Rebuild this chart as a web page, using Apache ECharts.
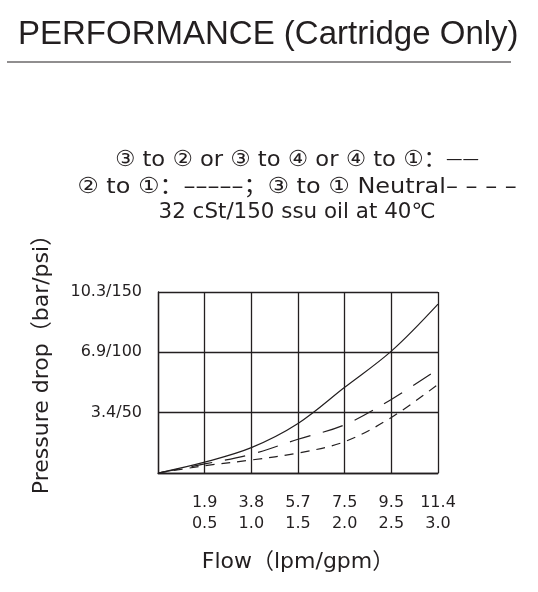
<!DOCTYPE html>
<html>
<head>
<meta charset="utf-8">
<script src="https://cdn.jsdelivr.net/npm/echarts@6/dist/echarts.min.js"></script>
<style>
  html, body { margin: 0; padding: 0; background: #fff; }
  #main { width: 538px; height: 592px; }
</style>
</head>
<body>
<div id="main"></div>
<script>
  // data (x in gpm, y in psi)
  const flowGpm = [0, 0.5, 1.0, 1.5, 2.0, 2.5, 3.0];
  const solidPsi = [0, 9, 21, 41, 71, 101, 140];
  const longDashPsi = [0, 7.5, 15.5, 28, 40, 61, 86];
  const shortDashPsi = [0, 6, 10.8, 16.5, 26, 46, 73.5];

  const xTickLpm = ['', '1.9', '3.8', '5.7', '7.5', '9.5', '11.4'];
  const xTickGpm = ['', '0.5', '1.0', '1.5', '2.0', '2.5', '3.0'];
  const yTickLabels = ['', '3.4/50', '6.9/100', '10.3/150'];

  const titleFont = '"Liberation Sans", Arial, sans-serif';
  const font = '"DejaVu Sans", "Noto Sans CJK SC", sans-serif';
  const ink = '#231f20';

  const pairs = (ys) => flowGpm.map((x, i) => [x, ys[i]]);

  let myChart = echarts.init(document.getElementById('main'));

  const legendLine = (text, y, size, sx) => ({
    type: 'text', x: 297, y: y, scaleX: sx,
    style: {
      text: text, fontFamily: font, fontSize: size, fill: ink,
      align: 'center', verticalAlign: 'middle',
      rich: { d: { fontFamily: font, fontSize: 16, fill: ink } }
    }
  });

  const option = {
    animation: false,
    grid: { left: 158, top: 292, width: 280, height: 181, show: false },
    graphic: [
      {
        type: 'text', left: 18, top: 18,
        style: { text: 'PERFORMANCE (Cartridge Only)', font: '33px ' + titleFont, fill: ink }
      },
      {
        type: 'line', shape: { x1: 7, y1: 62, x2: 511, y2: 62 },
        style: { stroke: ink, lineWidth: 1.2 }
      },
      legendLine('③ to ② or ③ to ④ or ④ to ①：{d|——}', 160, 22, 1.03),
      legendLine('② to ①：–––––；③ to ① Neutral– – – –', 187, 22, 1.09),
      legendLine('32 cSt/150 ssu oil at 40℃', 213, 21, 1.02)
    ],
    xAxis: {
      type: 'value', min: 0, max: 3, interval: 0.5,
      name: 'Flow（lpm/gpm）', nameLocation: 'middle', nameGap: 78,
      nameTextStyle: { fontFamily: font, fontSize: 22, color: ink },
      axisLine: { lineStyle: { color: ink, width: 1.3 } },
      axisTick: { show: false },
      splitLine: { show: true, lineStyle: { color: ink, width: 1.3 } },
      axisLabel: {
        margin: 19, fontFamily: font, fontSize: 16, color: ink, lineHeight: 21,
        formatter: (v) => {
          const i = Math.round(v / 0.5);
          return xTickLpm[i] ? xTickLpm[i] + '\n' + xTickGpm[i] : '';
        }
      }
    },
    yAxis: {
      type: 'value', min: 0, max: 150, interval: 50,
      name: 'Pressure drop（bar/psi）', nameLocation: 'middle', nameGap: 105,
      nameTextStyle: { fontFamily: font, fontSize: 22, color: ink, padding: [0, 0, 0, 47] },
      axisLine: { show: true, lineStyle: { color: ink, width: 1.3 } },
      axisTick: { show: false },
      splitLine: { show: true, lineStyle: { color: ink, width: 1.3 } },
      axisLabel: {
        margin: 16, fontFamily: font, fontSize: 16, color: ink, padding: [8, 0, 0, 0],
        formatter: (v) => yTickLabels[Math.round(v / 50)] || ''
      }
    },
    series: [
      {
        name: 'solid', type: 'line', data: pairs(solidPsi), smooth: 0.35,
        showSymbol: false, lineStyle: { color: ink, width: 1.2, type: 'solid' }
      },
      {
        name: 'long dash', type: 'line', data: pairs(longDashPsi), smooth: 0.35,
        showSymbol: false, lineStyle: { color: ink, width: 1.2, type: [21, 13] }
      },
      {
        name: 'short dash', type: 'line', data: pairs(shortDashPsi), smooth: 0.35,
        showSymbol: false, lineStyle: { color: ink, width: 1.2, type: [9, 7] }
      }
    ]
  };

  option && myChart.setOption(option);
</script>
</body>
</html>
